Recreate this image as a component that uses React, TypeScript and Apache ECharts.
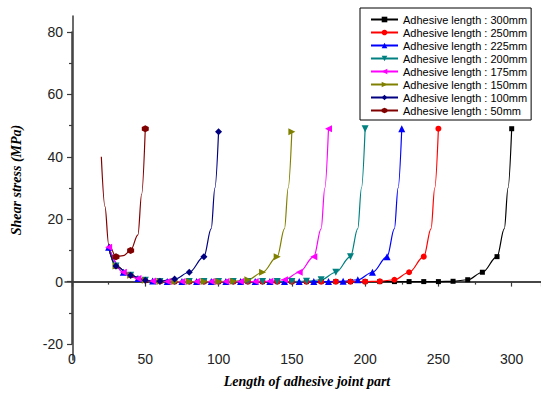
import React, { useEffect, useRef } from 'react';
import * as echarts from 'echarts';

const lengths = [300, 250, 225, 200, 175, 150, 100, 50];
const seriesNames = lengths.map((l) => `Adhesive length : ${l}mm`);
const colors = ['#000000', '#FF0000', '#0000FF', '#008080', '#FF00FF', '#808000', '#000080', '#800000'];

const x300 = [25, 30, 40, 50, 60, 70, 80, 90, 100, 110, 120, 130, 140, 150, 160, 170, 180, 190, 200, 210, 220, 230, 240, 250, 260, 270, 280, 290, 295, 297.5, 300];
const y300 = [11, 5, 2, 0.4, 0.05, 0, 0, 0, 0, 0, 0, 0, 0, 0, 0, 0, 0, 0, 0, 0, 0, 0, 0, 0, 0.1, 0.6, 3, 8, 17, 30, 49];

const x250 = [25, 30, 40, 50, 60, 70, 80, 90, 100, 110, 120, 130, 140, 150, 160, 170, 180, 190, 200, 210, 220, 230, 240, 245, 247.5, 250];
const y250 = [11, 5, 2, 0.4, 0.05, 0, 0, 0, 0, 0, 0, 0, 0, 0, 0, 0, 0, 0, 0, 0.1, 0.6, 3, 8, 17, 30, 49];

const x225 = [25, 35, 45, 55, 65, 75, 85, 95, 105, 115, 125, 135, 145, 155, 165, 175, 185, 195, 205, 215, 220, 222.5, 225];
const y225 = [11, 3, 1, 0.2, 0.03, 0, 0, 0, 0, 0, 0, 0, 0, 0, 0, 0, 0.1, 0.6, 3, 8, 17, 30, 49];

const x200 = [25, 30, 40, 50, 60, 70, 80, 90, 100, 110, 120, 130, 140, 150, 160, 170, 180, 190, 195, 197.5, 200];
const y200 = [11, 5, 2, 0.4, 0.05, 0, 0, 0, 0, 0, 0, 0, 0, 0, 0.1, 0.6, 3, 8, 17, 30, 49];

const x175 = [25, 35, 45, 55, 65, 75, 85, 95, 105, 115, 125, 135, 145, 155, 165, 170, 172.5, 175];
const y175 = [11, 3, 1, 0.2, 0.03, 0, 0, 0, 0, 0, 0, 0.1, 0.6, 3, 8, 17, 30, 49];

const x150 = [25, 30, 40, 50, 60, 70, 80, 90, 100, 110, 120, 130, 140, 145, 147.5, 150];
const y150 = [11, 5, 2, 0.4, 0.05, 0, 0, 0, 0, 0.1, 0.6, 3, 8, 17, 30, 48];

const x100 = [25, 30, 40, 50, 60, 70, 80, 90, 95, 97.5, 100];
const y100 = [11, 5, 2, 0.4, 0.1, 0.8, 3, 8, 17, 30, 48];

const x50 = [20, 22.5, 25, 30, 35, 40, 45, 47.5, 50];
const y50 = [40, 24, 12, 8, 8.3, 10, 15, 28, 49];

const xs = [x300, x250, x225, x200, x175, x150, x100, x50];
const ys = [y300, y250, y225, y200, y175, y150, y100, y50];

const hexagon = 'path://M5,0 L10,2.9 L10,8.7 L5,11.6 L0,8.7 L0,2.9 Z';
const symbols = ['rect', 'circle', 'triangle', 'triangle', 'triangle', 'triangle', 'diamond', hexagon];
const rotations = [0, 0, 0, 180, 90, -90, 0, 0];
const sizes = [5, 6, 7, 7, 7, 7, 7, 7];

export default function App() {
  const ref = useRef<HTMLDivElement>(null);
  useEffect(() => {
    if (!ref.current) return;
    const chart = echarts.init(ref.current, undefined, { renderer: 'svg' });
    const axisColor = '#3a3a3a';
    const labelFont = { fontFamily: '"Liberation Sans", Arial, sans-serif', fontSize: 14, color: '#222' };
    const series = lengths.map((L, i) => ({
      name: seriesNames[i],
      type: 'line',
      xAxisIndex: 0,
      yAxisIndex: 0,
      smooth: 0.35,
      smoothMonotone: 'x',
      symbol: symbols[i],
      symbolSize: sizes[i],
      symbolRotate: rotations[i],
      color: colors[i],
      lineStyle: { width: 1.2, color: colors[i] },
      itemStyle: { color: colors[i] },
      data: xs[i].map((x, k) => {
        const marked = (L - x) % 10 === 0 && x >= 25;
        return marked ? { value: [x, ys[i][k]] } : { value: [x, ys[i][k]], symbol: 'none' };
      }),
    }));
    chart.setOption({
      animation: false,
      backgroundColor: '#fff',
      grid: [
        { left: 72, right: 0, top: 32, bottom: 49, outerBoundsMode: 'none', containLabel: false },
        { left: 65, right: 0, top: 16, bottom: 33, outerBoundsMode: 'none', containLabel: false },
      ],
      xAxis: [
        {
          type: 'value', gridIndex: 0, min: 0, max: 320, interval: 50,
          axisLine: { show: true, onZero: true, lineStyle: { color: axisColor, width: 1.5 } },
          axisTick: { show: true, inside: false, length: 5, lineStyle: { color: axisColor, width: 1.2 } },
          minorTick: { show: true, splitNumber: 2, length: 3, lineStyle: { color: axisColor, width: 1.2 } },
          axisLabel: { ...labelFont, margin: 8, showMaxLabel: false },
          splitLine: { show: false },
        },
        {
          type: 'value', gridIndex: 1, min: -5, max: 320,
          axisLine: { show: true, onZero: true, lineStyle: { color: axisColor, width: 1.5 } },
          axisTick: { show: false }, axisLabel: { show: false }, splitLine: { show: false },
        },
      ],
      yAxis: [
        {
          type: 'value', gridIndex: 0, min: -20, max: 80, interval: 20,
          axisLine: { show: true, onZero: true, lineStyle: { color: axisColor, width: 1.5 } },
          axisTick: { show: true, inside: false, length: 5, lineStyle: { color: axisColor, width: 1.2 } },
          minorTick: { show: true, splitNumber: 2, length: 3, lineStyle: { color: axisColor, width: 1.2 } },
          axisLabel: { ...labelFont, margin: 9 },
          splitLine: { show: false },
        },
        {
          type: 'value', gridIndex: 1, min: -25, max: 85,
          axisLine: { show: true, onZero: true, lineStyle: { color: axisColor, width: 1.5 } },
          axisTick: { show: false }, axisLabel: { show: false }, splitLine: { show: false },
        },
      ],
      legend: {
        data: seriesNames,
        orient: 'vertical',
        left: 360,
        top: 8,
        width: 163,
        itemWidth: 27,
        itemHeight: 7,
        itemGap: 0,
        padding: [5, 4, 3, 10],
        borderColor: '#000',
        borderWidth: 1,
        backgroundColor: '#fff',
        textStyle: { fontFamily: '"Liberation Sans", Arial, sans-serif', fontSize: 11, color: '#000', lineHeight: 13 },
      },
      graphic: [
        {
          type: 'text', x: 307, y: 381,
          style: {
            text: 'Length of adhesive joint part',
            font: 'italic bold 14px "Liberation Serif", "Times New Roman", serif',
            textAlign: 'center', textVerticalAlign: 'middle', fill: '#000',
          },
        },
        {
          type: 'text', x: 16, y: 180, rotation: Math.PI / 2,
          style: {
            text: 'Shear stress (MPa)',
            font: 'italic bold 14px "Liberation Serif", "Times New Roman", serif',
            textAlign: 'center', textVerticalAlign: 'middle', fill: '#000',
          },
        },
      ],
      series,
    });
    return () => chart.dispose();
  }, []);
  return <div ref={ref} style={{ position: 'fixed', left: 0, top: 0, width: 541, height: 393 }} />;
}
